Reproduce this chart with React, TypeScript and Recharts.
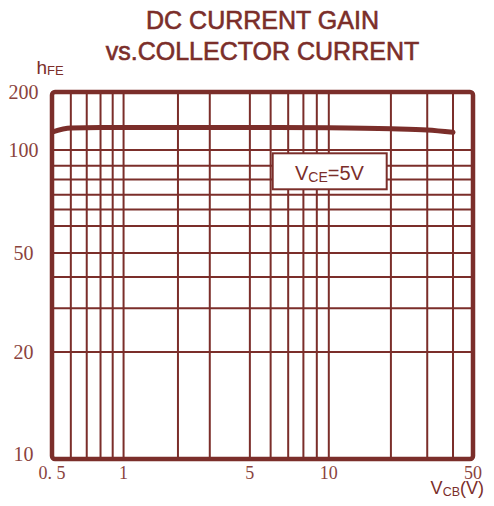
import { CartesianGrid, Line, LineChart, ReferenceArea, XAxis, YAxis } from 'recharts'

const INK = '#7b2e2a'
const TICK_INK = '#8a433d'

const vcb = [0.5, 0.6, 0.8, 1, 2, 5, 10, 20, 30, 40]
const hfe = [124, 130, 131, 131, 131, 131, 130.5, 129, 127, 123.5]

const xGridTicks = [0.5, 0.6, 0.7, 0.8, 0.9, 1, 2, 3, 5, 6, 7, 8, 9, 10, 20, 30, 40, 50]
const xLabelTicks = [0.5, 1, 5, 10, 50]
const xLabels = ['0. 5', '1', '5', '10', '50']

const yGridTicks = [10, 20, 30, 40, 50, 60, 67, 74, 82, 90, 100, 200]
const yLabelTicks = [10, 20, 50, 100, 200]
const yLabels = ['10', '20', '50', '100', '200']

// the printed axes are not a clean log scale: labelled ticks sit at these
// fractions of the plot, log-interpolated in between
const xKnotPos = [0, 0.17, 0.47, 0.6575, 1]
const yKnotPos = [0, 0.2916, 0.5613, 0.842, 1]

const chartData = vcb.map((v, i) => ({ vcb: v, hfe: hfe[i] }))

function sheetScale(knots: number[], pos: number[]) {
  let domain = [knots[0], knots[knots.length - 1]]
  let range = [0, 1]
  const scale: any = (value: number) => {
    let i = 0
    while (i < knots.length - 2 && value > knots[i + 1]) i++
    const l0 = Math.log10(knots[i])
    const l1 = Math.log10(knots[i + 1])
    const t = (Math.log10(value) - l0) / (l1 - l0)
    const f = pos[i] + (pos[i + 1] - pos[i]) * t
    return range[0] + (range[1] - range[0]) * f
  }
  scale.domain = (d?: number[]) => {
    if (d === undefined) return domain
    domain = d
    return scale
  }
  scale.range = (r?: number[]) => {
    if (r === undefined) return range
    range = r
    return scale
  }
  scale.copy = () => sheetScale(knots, pos).domain(domain).range(range)
  scale.ticks = () => knots
  return scale
}

const xScale = sheetScale(xLabelTicks, xKnotPos)
const yScale = sheetScale(yLabelTicks, yKnotPos)

function XTick(props: any) {
  const idx = xLabelTicks.indexOf(props.payload.value)
  if (idx < 0) return null
  return (
    <text x={props.x} y={478.5} textAnchor="middle" fontSize={18} fontFamily="Liberation Serif" fill={TICK_INK}>
      {xLabels[idx]}
    </text>
  )
}

function YTick(props: any) {
  const idx = yLabelTicks.indexOf(props.payload.value)
  if (idx < 0) return null
  // the bottom label sits a little above its line on the sheet
  const lift = props.payload.value === 10 ? -5 : 0
  return (
    <text
      x={23.5}
      y={props.y + 7 + lift}
      textAnchor="middle"
      fontSize={20}
      fontFamily="Liberation Serif"
      fill={TICK_INK}
    >
      {yLabels[idx]}
    </text>
  )
}

export default function App() {
  return (
    <div style={{ position: 'relative', width: 494, height: 506, margin: -8 }}>
      <LineChart width={494} height={506} data={chartData} margin={{ top: 92, right: 21, bottom: 0, left: 0 }}>
        <CartesianGrid stroke={INK} strokeWidth={2} />
        <XAxis
          dataKey="vcb"
          type="number"
          scale={xScale}
          domain={[0.5, 50]}
          ticks={xGridTicks}
          interval={0}
          tick={<XTick />}
          axisLine={false}
          tickLine={false}
          height={47}
          allowDataOverflow
        />
        <YAxis
          type="number"
          scale={yScale}
          domain={[10, 200]}
          ticks={yGridTicks}
          interval={0}
          tick={<YTick />}
          axisLine={false}
          tickLine={false}
          width={52}
          allowDataOverflow
        />
        <Line
          dataKey="hfe"
          type="monotone"
          stroke={INK}
          strokeWidth={5}
          strokeLinecap="round"
          dot={false}
          isAnimationActive={false}
        />
        <ReferenceArea x1={0.5} x2={50} y1={10} y2={200} fill="none" stroke={INK} strokeWidth={4.5} radius={3} />
      </LineChart>

      <svg width={494} height={506} style={{ position: 'absolute', left: 0, top: 0, pointerEvents: 'none' }}>
        <g fill={INK} fontFamily="Liberation Sans">
          <g stroke={INK} strokeWidth={0.6}>
            <text x={262.5} y={29.3} textAnchor="middle" fontSize={25}>
              DC CURRENT GAIN
            </text>
            <text x={262.5} y={60} textAnchor="middle" fontSize={25}>
              vs.COLLECTOR CURRENT
            </text>
          </g>
          <text x={36.5} y={73.5} fontSize={19}>
            h<tspan fontSize={13} dy={1}>FE</tspan>
          </text>
          <rect x={272.7} y={153.3} width={114} height={36} fill="#ffffff" stroke={INK} strokeWidth={2} />
          <text x={295} y={180} fontSize={20}>
            V<tspan fontSize={14} dy={2}>CE</tspan>
            <tspan fontSize={20} dy={-2}>=5V</tspan>
          </text>
          <text x={484} y={494} fontSize={18} textAnchor="end">
            V<tspan fontSize={12.5} dy={1.5}>CB</tspan>
            <tspan fontSize={18} dy={-1.5}>(V)</tspan>
          </text>
        </g>
      </svg>
    </div>
  )
}
